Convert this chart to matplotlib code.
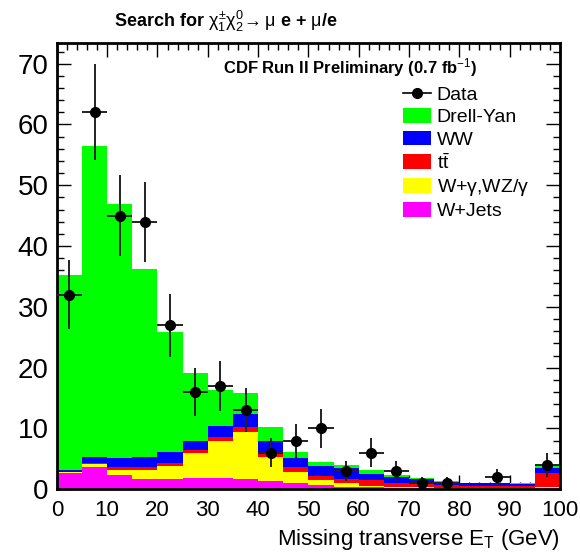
import matplotlib
matplotlib.use("Agg")
import matplotlib.pyplot as plt
import numpy as np
from matplotlib.lines import Line2D
from matplotlib.patches import Patch

# bin edges (GeV) and per-component expected events per 5 GeV bin
bin_edges = np.arange(0, 105, 5)
w_jets = [2.6, 3.6, 2.35, 1.7, 1.7, 1.9, 1.8, 1.7, 1.4, 1.0,
          0.7, 0.4, 0.4, 0.2, 0.15, 0.1, 0.1, 0.1, 0.1, 0.2]
w_gamma = [0.2, 0.6, 0.85, 1.5, 2.2, 4.0, 6.1, 7.8, 3.9, 1.8,
           0.8, 0.7, 0.1, 0.25, 0.15, 0.05, 0.05, 0.05, 0.05, 0.1]
ttbar = [0.1, 0.2, 0.4, 0.4, 0.5, 0.6, 0.65, 0.8, 0.7, 0.8,
         0.75, 0.6, 1.0, 0.55, 0.8, 0.55, 0.4, 0.4, 0.4, 2.3]
ww = [0.3, 0.9, 1.5, 1.7, 1.7, 1.5, 1.85, 2.1, 2.0, 1.5,
      1.65, 1.75, 1.0, 1.0, 0.6, 0.55, 0.45, 0.45, 0.35, 0.85]
drell_yan = [32.0, 51.2, 41.9, 31.0, 19.7, 11.2, 6.0, 3.4, 2.3, 1.1,
             0.6, 0.55, 0.6, 0.35, 0.16, 0.15, 0.1, 0.1, 0.1, 0.55]

# observed data and errors
data_counts = [32, 62, 45, 44, 27, 16, 17, 13, 6, 8,
               10, 3, 6, 3, 1, 1, 0, 2, 0, 4]
data_err = [5.7, 7.9, 6.7, 6.6, 5.2, 4.0, 4.1, 3.6, 2.4, 2.8,
            3.2, 1.7, 2.4, 1.7, 1.0, 1.0, 0.0, 1.4, 0.0, 2.0]

stack = [("W+Jets", w_jets, "#ff00ff"),
         (r"W+$\gamma$,WZ/$\gamma$", w_gamma, "#ffff00"),
         (r"t$\bar{\rm t}$", ttbar, "#ff0000"),
         ("WW", ww, "#0000ff"),
         ("Drell-Yan", drell_yan, "#00ff00")]

plt.rcParams["font.family"] = ["Liberation Sans", "DejaVu Sans"]
plt.rcParams["mathtext.fontset"] = "custom"
plt.rcParams["mathtext.rm"] = "Liberation Sans"
plt.rcParams["mathtext.it"] = "Liberation Sans"
plt.rcParams["mathtext.bf"] = "Liberation Sans:bold"

fig = plt.figure(figsize=(5.8, 5.55), dpi=100)
ax = fig.add_axes([0.098, 0.1184, 0.8675, 0.8041])

left = bin_edges[:-1]
width = np.diff(bin_edges)
bottom = np.zeros(len(left))
for name, vals, col in stack:
    vals = np.array(vals)
    ax.bar(left, vals, width=width, bottom=bottom, align="edge",
           color=col, linewidth=0, zorder=2)
    bottom += vals

centers = left + width / 2
counts = np.array(data_counts, dtype=float)
mask = counts > 0
ax.errorbar(centers[mask], counts[mask], yerr=np.array(data_err)[mask],
            xerr=width[mask] / 2, fmt="o", color="black", ecolor="#222222",
            markersize=7, elinewidth=1.4, capsize=0, zorder=4)

ax.set_xlim(0, 100)
ax.set_ylim(0, 73.4)
ax.set_xticks(np.arange(0, 101, 10))
ax.set_xticks(np.arange(0, 101, 2), minor=True)
ax.set_yticks(np.arange(0, 71, 10))
ax.set_yticks(np.arange(0, 73, 2), minor=True)
ax.tick_params(which="both", direction="in", top=True, right=True)
ax.tick_params(which="major", length=10, width=1)
ax.tick_params(which="minor", length=5, width=1)
ax.tick_params(axis="y", labelsize=20, pad=6)
ax.tick_params(axis="x", labelsize=16, pad=8)
for s in ax.spines.values():
    s.set_linewidth(2)

ax.set_xlabel(r"Missing transverse E$_{\rm T}$ (GeV)", fontsize=16,
              loc="right", labelpad=4)

fig.text(0.39, 0.962,
         r"Search for $\chi_1^{\pm}\chi_2^0\!\rightarrow \mu$ e + $\mu$/e",
         ha="center", va="center", fontsize=13, fontweight="bold")
ax.text(0.33, 0.944, r"CDF Run II Preliminary (0.7 fb$^{-1}$)",
        transform=ax.transAxes, ha="left", va="center", fontsize=12,
        fontweight="bold")

handles = [Line2D([0], [0], color="black", marker="o", markersize=7,
                  linewidth=1.2)]
labels = ["Data"]
for name, vals, col in reversed(stack):
    handles.append(Patch(facecolor=col, edgecolor="none"))
    labels.append(name)
ax.legend(handles, labels, loc="upper left", bbox_to_anchor=(0.672, 0.922),
          frameon=False, fontsize=14, handlelength=1.45, handleheight=0.8,
          labelspacing=0.22, handletextpad=0.3, borderaxespad=0)

fig.savefig("out.png", dpi=100)
plt.close(fig)
